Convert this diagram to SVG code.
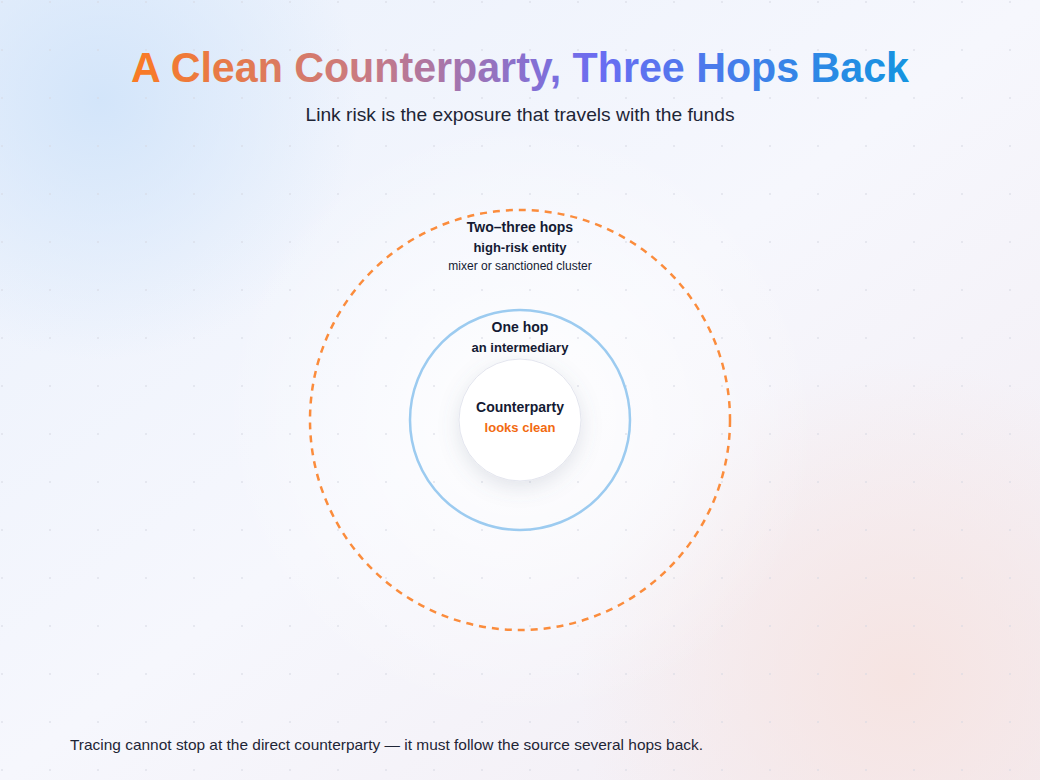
<svg xmlns="http://www.w3.org/2000/svg" width="1040" height="780" viewBox="0 0 1040 780">
<defs>
<linearGradient id="bg" x1="0" y1="0" x2="1" y2="1">
<stop offset="0" stop-color="#eaf1fc"/>
<stop offset="0.5" stop-color="#f6f7fd"/>
<stop offset="1" stop-color="#f3ecf2"/>
</linearGradient>
<radialGradient id="blobBlue" cx="100" cy="100" r="260" gradientUnits="userSpaceOnUse">
<stop offset="0" stop-color="#d3e5fa" stop-opacity="1"/>
<stop offset="1" stop-color="#d3e5fa" stop-opacity="0"/>
</radialGradient>
<radialGradient id="blobPink" cx="900" cy="680" r="320" gradientUnits="userSpaceOnUse">
<stop offset="0" stop-color="#f6e4e2" stop-opacity="1"/>
<stop offset="1" stop-color="#f6e4e2" stop-opacity="0"/>
</radialGradient>
<radialGradient id="glow" cx="520" cy="420" r="300" gradientUnits="userSpaceOnUse">
<stop offset="0" stop-color="#ffffff" stop-opacity="0.9"/>
<stop offset="1" stop-color="#ffffff" stop-opacity="0"/>
</radialGradient>
<pattern id="dots" x="0" y="0" width="48" height="48" patternUnits="userSpaceOnUse">
<rect x="1.3" y="1.3" width="1.4" height="1.4" fill="#d6d9e2"/>
</pattern>
<linearGradient id="titleGrad" x1="130" y1="0" x2="910" y2="0" gradientUnits="userSpaceOnUse">
<stop offset="0" stop-color="#fb7a23"/>
<stop offset="0.3" stop-color="#c97a82"/>
<stop offset="0.6" stop-color="#6a6cf2"/>
<stop offset="1" stop-color="#1594e0"/>
</linearGradient>
<filter id="shadow" x="-50%" y="-50%" width="200%" height="200%">
<feDropShadow dx="0" dy="6" stdDeviation="10" flood-color="#64748b" flood-opacity="0.18"/>
</filter>
</defs>
<style>
.t{font-family:"Liberation Sans",Arial,sans-serif;text-anchor:middle;fill:#141a33}
.b{font-weight:bold}
</style>
<rect width="1040" height="780" fill="url(#bg)"/>
<rect width="1040" height="780" fill="url(#blobBlue)"/>
<rect width="1040" height="780" fill="url(#blobPink)"/>
<rect width="1040" height="780" fill="url(#glow)"/>
<rect width="1040" height="780" fill="url(#dots)"/>

<text x="520" y="82" class="t b" font-size="43" textLength="778" lengthAdjust="spacingAndGlyphs" style="fill:url(#titleGrad)">A Clean Counterparty, Three Hops Back</text>
<text x="520" y="121" class="t" font-size="19" textLength="429" lengthAdjust="spacingAndGlyphs" style="fill:#1e2536">Link risk is the exposure that travels with the funds</text>

<g id="ring-outer">
<circle cx="520" cy="420" r="210" fill="none" stroke="#fb8c3c" stroke-width="2.5" stroke-dasharray="7 6"/>
<text x="520" y="232" class="t b" font-size="14">Two–three hops</text>
<text x="520" y="252" class="t b" font-size="13">high-risk entity</text>
<text x="520" y="270" class="t" font-size="12">mixer or sanctioned cluster</text>
</g>
<g id="ring-middle">
<circle cx="520" cy="420" r="110" fill="none" stroke="#9ccbf0" stroke-width="2.5"/>
<text x="520" y="332" class="t b" font-size="14">One hop</text>
<text x="520" y="352" class="t b" font-size="13">an intermediary</text>
</g>
<g id="core">
<circle cx="520" cy="420" r="61" fill="#ffffff" stroke="#e3e5ee" stroke-width="1" filter="url(#shadow)"/>
<text x="520" y="412" class="t b" font-size="14">Counterparty</text>
<text x="520" y="432" class="t b" font-size="13" style="fill:#f26a10">looks clean</text>
</g>
<g id="connectors"></g>
<text x="70" y="750" font-family="Liberation Sans, Arial, sans-serif" font-size="15" textLength="633" lengthAdjust="spacingAndGlyphs" fill="#1e2536">Tracing cannot stop at the direct counterparty — it must follow the source several hops back.</text>
</svg>
